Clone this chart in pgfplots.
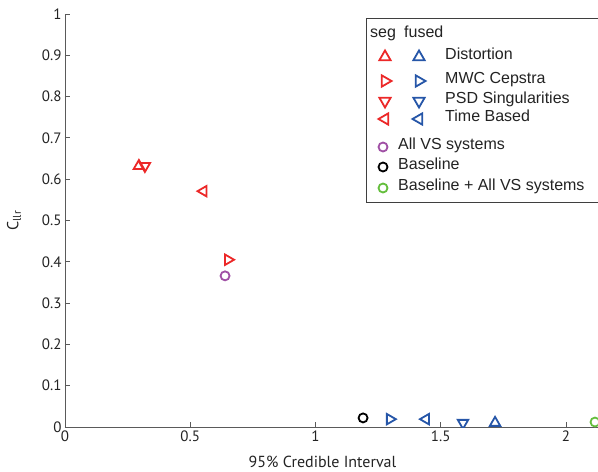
\documentclass[border=0pt]{standalone}
\usepackage{pgfplots}
\pgfplotsset{compat=1.18}
\usepackage{fontspec}
\setmainfont{Liberation Sans}
\newfontfamily\axfont{PT Sans}
\definecolor{myred}{RGB}{236,40,40}
\definecolor{myblue}{RGB}{38,86,168}
\definecolor{mypurple}{RGB}{160,80,165}
\definecolor{mygreen}{RGB}{100,190,60}
\definecolor{axgray}{RGB}{90,90,90}
\definecolor{txt}{RGB}{35,35,35}
\begin{document}
\begin{tikzpicture}
\begin{axis}[
  scale only axis, width=533pt, height=413pt,
  xmin=0, xmax=2.128, ymin=0, ymax=1,
  axis lines=left, axis line style={-, draw=axgray, line width=0.8pt},
  clip marker paths=true,
  xtick={0,0.5,1,1.5,2}, xticklabels={0,0.5,1,1.5,2},
  ytick={0,0.1,0.2,0.3,0.4,0.5,0.6,0.7,0.8,0.9,1},
  yticklabels={0,0.1,0.2,0.3,0.4,0.5,0.6,0.7,0.8,0.9,1},
  tick align=inside, major tick length=5pt,
  tick style={axgray, line width=0.8pt},
  ticklabel style={font=\axfont\fontsize{15}{18}\selectfont, text=txt},
  xlabel={95\% Credible Interval}, ylabel={C\textsubscript{llr}},
  label style={font=\axfont\fontsize{16}{19}\selectfont, text=txt},
  xlabel style={yshift=-8pt, xshift=-9pt},
  ylabel style={yshift=14pt},
  mark size=6pt,
]
\coordinate (sw) at (rel axis cs:0,0);
\coordinate (ne) at (rel axis cs:1,1);
% seg
\addplot[only marks, mark=triangle, myred, line width=1.8pt] coordinates {(0.295,0.632)};
\addplot[only marks, mark=triangle, mark options={rotate=-90}, myred, line width=1.8pt] coordinates {(0.651,0.405)};
\addplot[only marks, mark=triangle, mark options={rotate=180}, myred, line width=1.8pt] coordinates {(0.319,0.632)};
\addplot[only marks, mark=triangle, mark options={rotate=90}, myred, line width=1.8pt] coordinates {(0.553,0.571)};
% fused
\addplot[only marks, mark=triangle, myblue, line width=1.8pt] coordinates {(1.717,0.010)};
\addplot[only marks, mark=triangle, mark options={rotate=-90}, myblue, line width=1.8pt] coordinates {(1.297,0.019)};
\addplot[only marks, mark=triangle, mark options={rotate=180}, myblue, line width=1.8pt] coordinates {(1.589,0.010)};
\addplot[only marks, mark=triangle, mark options={rotate=90}, myblue, line width=1.8pt] coordinates {(1.441,0.019)};
% circles
\addplot[only marks, mark=o, mark size=4.5pt, mypurple, line width=1.8pt] coordinates {(0.639,0.366)};
\addplot[only marks, mark=o, mark size=4.5pt, black, line width=1.8pt] coordinates {(1.19,0.022)};
\addplot[only marks, mark=o, mark size=4.5pt, mygreen, line width=1.8pt] coordinates {(2.116,0.012)};
\end{axis}
% legend (pixel offsets from the box's top-left corner, y downward)
\coordinate (lgtl) at ([xshift=301pt,yshift=409pt]sw);
\fill[white] (lgtl) rectangle ++(250pt,-184pt);
\draw[axgray!70!black, line width=0.9pt] (lgtl) rectangle ++(250pt,-184pt);
\begin{scope}[shift={(lgtl)}, x=1pt, y=-1pt,
  lt/.style={anchor=mid west, inner sep=0pt, font=\fontsize{16}{19}\selectfont, text=txt},
  tri/.style={line width=1.8pt}]
\node[lt] at (4,17) {seg};
\node[lt] at (38,17) {fused};
% triangles: up, right, down, left (angles mirrored because y points down)
\foreach \ang/\yy in {270/39, 0/63, 90/83, 180/101}{
  \draw[tri, myred]  (19,\yy) ++(\ang:6.5) -- ++(\ang+150:11.26) -- ++(\ang+270:11.26) -- cycle;
  \draw[tri, myblue] (53,\yy) ++(\ang:6.5) -- ++(\ang+150:11.26) -- ++(\ang+270:11.26) -- cycle;
}
\node[lt] at (79,39) {Distortion};
\node[lt] at (79,63) {MWC Cepstra};
\node[lt] at (79,83) {PSD Singularities};
\node[lt] at (79,101) {Time Based};
\draw[mypurple, line width=1.8pt] (17,129) circle (4.5);
\draw[black, line width=1.8pt] (17,149) circle (4.5);
\draw[mygreen, line width=1.8pt] (17,170) circle (4.5);
\node[lt] at (32,129) {All VS systems};
\node[lt] at (32,149) {Baseline};
\node[lt] at (32,170) {Baseline + All VS systems};
\end{scope}
\pgfresetboundingbox
\path (sw) ++(-65pt,-44pt) rectangle (ne) ++(0pt,14pt);
\end{tikzpicture}
\end{document}
